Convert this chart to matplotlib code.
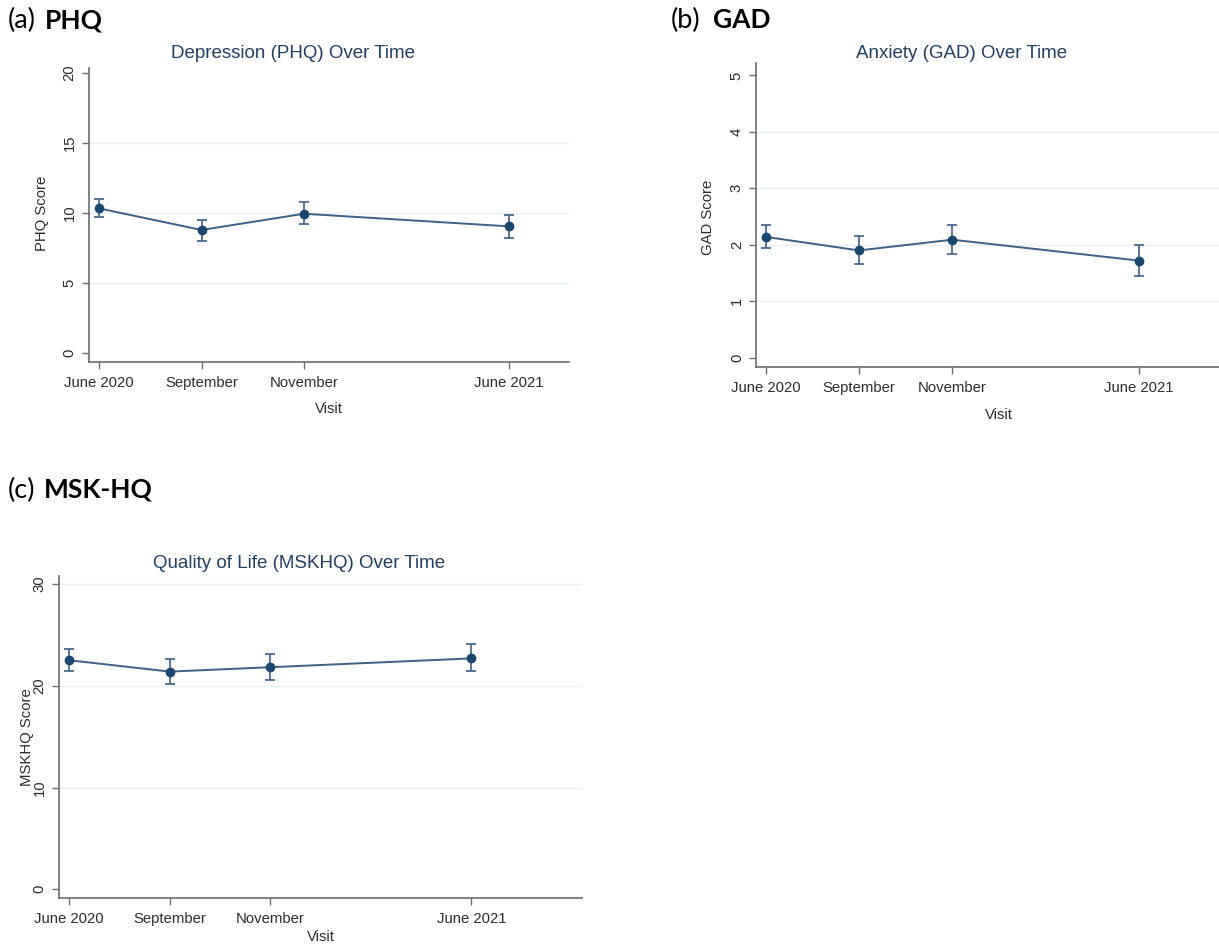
import matplotlib
matplotlib.use("Agg")
import matplotlib.pyplot as plt

# ---------------- DATA ----------------

VISITS = ["June 2020", "September", "November", "June 2021"]
VISIT_POS = [1, 2, 3, 5]

PHQ_MEAN = [10.33, 8.79, 9.95, 9.05]
PHQ_LOW = [9.69, 8.02, 9.19, 8.24]
PHQ_HIGH = [11.00, 9.50, 10.76, 9.88]

GAD_MEAN = [2.14, 1.90, 2.09, 1.72]
GAD_LOW = [1.94, 1.66, 1.84, 1.45]
GAD_HIGH = [2.35, 2.16, 2.35, 2.00]

MSK_MEAN = [22.52, 21.40, 21.83, 22.70]
MSK_LOW = [21.43, 20.20, 20.60, 21.43]
MSK_HIGH = [23.63, 22.60, 23.10, 24.10]

PHQ_TICKS = [0, 5, 10, 15, 20]
GAD_TICKS = [0, 1, 2, 3, 4, 5]
MSK_TICKS = [0, 10, 20, 30]

# ---------------- STYLE ----------------

W, H = 1219, 944
NAVY = "#1a476f"
LINE = "#3f5f84"
TITLE_COL = "#233f5f"
AXIS_COL = "#6b6b6b"
GRID_COL = "#e8eff1"
TEXT_COL = "#2b2b2b"

plt.rcParams["font.family"] = ["Liberation Sans", "DejaVu Sans"]

fig = plt.figure(figsize=(W / 100, H / 100), dpi=100)
fig.patch.set_facecolor("white")


def px_x(x):
    return x / W


def px_y(y):
    return 1 - y / H


def make_axes(left, top, right, bottom):
    return fig.add_axes([px_x(left), px_y(bottom), px_x(right - left), (bottom - top) / H])


def draw_panel(ax, mean, low, high, yticks, ylim, xlim, grid_levels):
    yerr = [[m - l for m, l in zip(mean, low)], [h - m for m, h in zip(mean, high)]]
    for g in grid_levels:
        ax.axhline(g, color=GRID_COL, lw=1.0, zorder=0)
    ax.errorbar(VISIT_POS, mean, yerr=yerr, fmt="none", ecolor=LINE,
                elinewidth=1.2, capsize=3.5, capthick=1.2, zorder=2)
    ax.plot(VISIT_POS, mean, color=LINE, lw=1.4, zorder=3)
    ax.plot(VISIT_POS, mean, "o", color=NAVY, ms=6, zorder=4)

    ax.set_xlim(*xlim)
    ax.set_ylim(*ylim)
    ax.set_xticks(VISIT_POS)
    ax.set_xticklabels(VISITS)
    ax.set_yticks(yticks)
    ax.set_yticklabels([str(t) for t in yticks], rotation=90, va="center")

    for side in ["top", "right"]:
        ax.spines[side].set_visible(False)
    for side in ["left", "bottom"]:
        ax.spines[side].set_color(AXIS_COL)
        ax.spines[side].set_linewidth(1.2)
    ax.tick_params(axis="both", colors=AXIS_COL, length=5, width=1.0,
                   labelsize=10.7, labelcolor=TEXT_COL)
    ax.tick_params(axis="x", pad=5)
    ax.tick_params(axis="y", pad=4)


def panel_label(x_par, x_name, y, letter, name):
    fig.text(px_x(x_par), px_y(y), f"({letter})", family=["Lato", "DejaVu Sans"],
             fontsize=19.5, va="center", ha="left", color="black")
    fig.text(px_x(x_name), px_y(y), name, family=["Lato", "DejaVu Sans"],
             fontsize=19, fontweight="bold", va="center", ha="left", color="black")


# (a) PHQ
ax_a = make_axes(89, 68, 569, 362)
draw_panel(ax_a, PHQ_MEAN, PHQ_LOW, PHQ_HIGH, PHQ_TICKS, (-0.64, 20.36), (0.9, 5.59),
           [5, 10, 15])
fig.text(px_x(293), px_y(53), "Depression (PHQ) Over Time", ha="center", va="center",
         fontsize=13.5, color=TITLE_COL)
fig.text(px_x(42), px_y(213), "PHQ Score", rotation=90, ha="center", va="center",
         fontsize=10.7, color=TEXT_COL)
fig.text(px_x(329), px_y(409), "Visit", ha="center", va="center", fontsize=10.7,
         color=TEXT_COL)
panel_label(8, 45, 20, "a", "PHQ")

# (b) GAD
ax_b = make_axes(756.4, 63, 1241.5, 367)
draw_panel(ax_b, GAD_MEAN, GAD_LOW, GAD_HIGH, GAD_TICKS, (-0.165, 5.22), (0.9, 6.1),
           [1, 2, 3, 4])
fig.text(px_x(962), px_y(53), "Anxiety (GAD) Over Time", ha="center", va="center",
         fontsize=13.5, color=TITLE_COL)
fig.text(px_x(708), px_y(217), "GAD Score", rotation=90, ha="center", va="center",
         fontsize=10.7, color=TEXT_COL)
fig.text(px_x(999), px_y(415), "Visit", ha="center", va="center", fontsize=10.7,
         color=TEXT_COL)
panel_label(671, 713, 20, "b", "GAD")

# (c) MSK-HQ
ax_c = make_axes(59, 576, 582, 898)
draw_panel(ax_c, MSK_MEAN, MSK_LOW, MSK_HIGH, MSK_TICKS, (-0.86, 30.8), (0.9, 6.1),
           [10, 20, 30])
fig.text(px_x(299), px_y(563), "Quality of Life (MSKHQ) Over Time", ha="center",
         va="center", fontsize=13.5, color=TITLE_COL)
fig.text(px_x(27), px_y(737), "MSKHQ Score", rotation=90, ha="center", va="center",
         fontsize=10.7, color=TEXT_COL)
fig.text(px_x(321), px_y(937), "Visit", ha="center", va="center", fontsize=10.7,
         color=TEXT_COL)
panel_label(8, 44, 490, "c", "MSK-HQ")

plt.savefig("out.png", dpi=100, facecolor="white")
plt.close()
